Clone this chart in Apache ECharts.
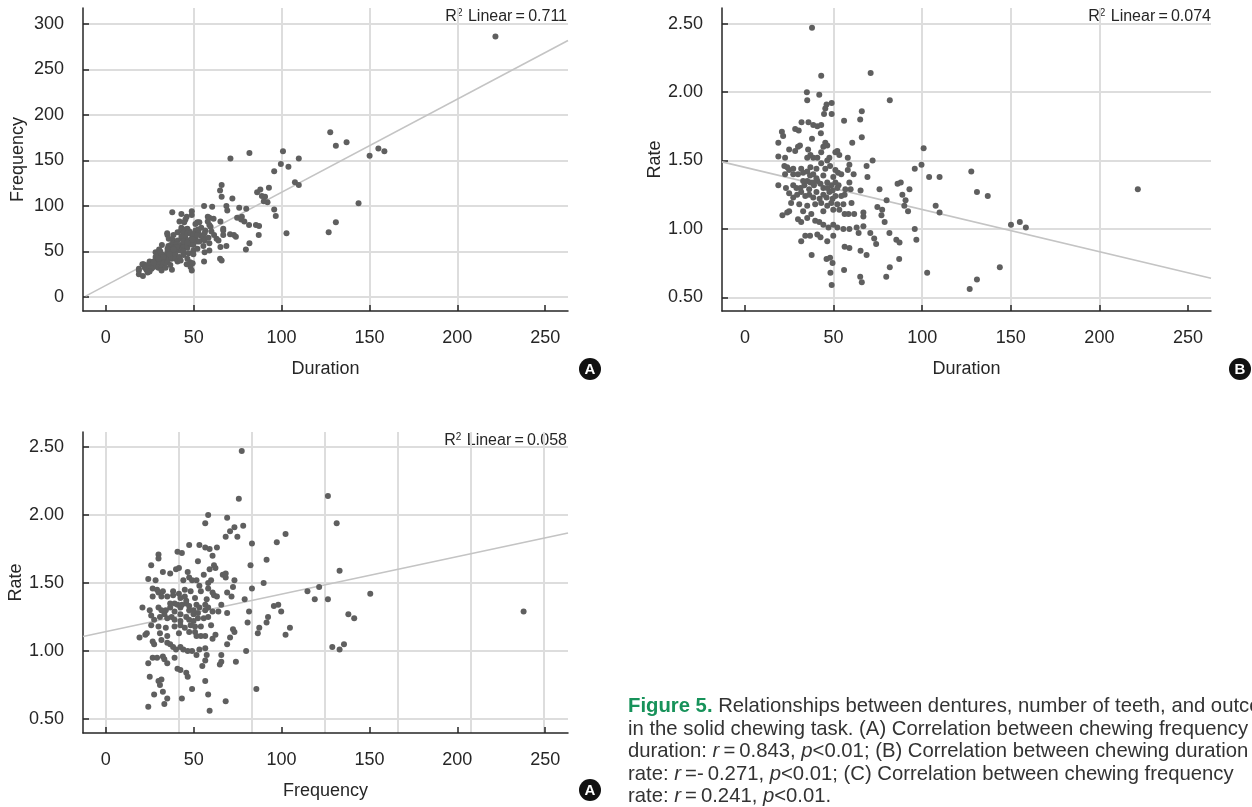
<!DOCTYPE html>
<html>
<head>
<meta charset="utf-8">
<script src="https://cdn.jsdelivr.net/npm/echarts@6/dist/echarts.min.js"></script>
<style>
  html, body { margin: 0; padding: 0; background: #fff; }
  #chart { width: 1252px; height: 807px; }
</style>
</head>
<body>
<div id="chart"></div>
<script>
// one entry per subject: chewing duration, chewing frequency, chewing rate
const duration = [
  37.8, 43.0, 70.9, 34.9, 35.1, 41.9, 81.7, 48.9, 46.0, 45.3,
  44.6, 48.9, 65.9, 65.0, 55.9, 31.9, 35.8, 38.5, 40.8, 43.0,
  28.3, 30.3, 20.8, 21.5, 42.8, 18.8, 60.5, 65.9, 37.8, 45.3,
  46.4, 24.9, 28.3, 29.9, 31.0, 35.6, 100.8, 44.2, 18.8, 22.6,
  36.9, 38.5, 40.8, 47.6, 51.0, 53.2, 58.0, 52.1, 72.0, 68.6,
  99.6, 95.8, 103.9, 109.8, 127.7, 69.1, 22.2, 23.8, 22.6, 24.9,
  27.2, 31.7, 32.8, 35.1, 36.9, 38.5, 40.3, 43.0, 45.3, 46.4,
  48.0, 51.0, 52.5, 58.0, 18.8, 23.1, 27.2, 29.0, 31.3, 33.5,
  35.1, 36.9, 38.9, 40.8, 42.6, 44.2, 46.4, 48.7, 51.0, 52.8,
  58.9, 59.6, 65.2, 75.9, 86.1, 87.9, 92.8, 88.8, 90.6, 92.0,
  89.9, 79.9, 130.9, 137.0, 221.7, 107.6, 109.8, 150.1, 155.1, 158.5,
  24.9, 27.2, 29.4, 31.7, 34.0, 36.2, 38.5, 40.3, 42.1, 44.2,
  46.0, 47.6, 49.4, 51.0, 54.3, 26.0, 30.6, 35.1, 39.6, 43.0,
  46.4, 48.7, 52.1, 55.5, 60.1, 24.9, 21.1, 23.8, 32.8, 37.4,
  44.2, 49.8, 53.2, 56.2, 58.4, 61.6, 74.7, 77.4, 77.0, 66.8,
  29.9, 31.7, 35.1, 39.6, 41.9, 44.2, 47.1, 49.8, 52.1, 55.5,
  58.9, 63.0, 66.8, 64.1, 70.7, 78.8, 81.5, 95.8, 31.7, 34.0,
  36.7, 40.8, 42.6, 46.4, 49.8, 56.2, 58.9, 65.2, 68.6, 72.9,
  74.0, 85.4, 87.2, 96.7, 37.6, 46.0, 48.0, 49.4, 87.0, 55.9,
  48.2, 81.7, 65.0, 65.9, 79.7, 48.9, 102.8, 143.8, 130.9, 126.8,
  27.2, 29.9, 32.8, 36.7, 40.3, 44.2, 49.8, 54.3, 56.6, 56.2,
  46.4, 49.4, 52.1, 36.2, 38.5, 35.1, 43.0, 58.9, 61.3, 66.8
];
const frequency = [
  93, 91, 152, 70, 68, 83, 158, 94, 88, 85,
  82, 90, 123, 117, 100, 57, 64, 68, 71, 76,
  49, 52, 36, 36, 73, 31, 99, 110, 63, 74,
  75, 39, 44, 48, 50, 56, 160, 71, 29, 34,
  57, 59, 62, 72, 80, 82, 88, 82, 108, 100,
  146, 138, 143, 152, 181, 95, 32, 35, 32, 36,
  39, 46, 46, 50, 54, 54, 58, 64, 65, 70,
  70, 73, 74, 83, 25, 30, 36, 38, 41, 44,
  47, 49, 51, 55, 57, 57, 62, 64, 68, 70,
  79, 77, 83, 98, 115, 118, 120, 111, 110, 104,
  105, 97, 166, 170, 286, 126, 123, 155, 163, 160,
  31, 33, 37, 40, 42, 45, 47, 51, 51, 55,
  57, 60, 60, 63, 67, 31, 36, 41, 47, 51,
  54, 58, 61, 65, 72, 28, 23, 27, 37, 42,
  50, 57, 61, 62, 65, 68, 87, 88, 85, 73,
  32, 33, 38, 42, 44, 46, 48, 51, 53, 56,
  59, 64, 68, 62, 69, 83, 79, 96, 29, 32,
  35, 39, 40, 42, 47, 49, 51, 55, 56, 68,
  66, 79, 78, 89, 30, 36, 38, 37, 68, 39,
  33, 59, 42, 40, 52, 29, 70, 103, 82, 71,
  38, 42, 44, 51, 55, 61, 69, 76, 73, 70,
  60, 63, 68, 47, 52, 53, 67, 87, 86, 75
];
const rate = [
  2.47, 2.12, 2.14, 2.00, 1.94, 1.98, 1.94, 1.92, 1.91, 1.88,
  1.84, 1.84, 1.86, 1.80, 1.79, 1.78, 1.78, 1.76, 1.75, 1.76,
  1.73, 1.72, 1.71, 1.68, 1.70, 1.63, 1.63, 1.67, 1.66, 1.63,
  1.61, 1.58, 1.57, 1.60, 1.61, 1.58, 1.59, 1.60, 1.53, 1.52,
  1.54, 1.52, 1.52, 1.52, 1.56, 1.54, 1.52, 1.57, 1.50, 1.46,
  1.47, 1.44, 1.38, 1.38, 1.42, 1.38, 1.46, 1.45, 1.40, 1.43,
  1.44, 1.44, 1.41, 1.42, 1.45, 1.40, 1.44, 1.48, 1.44, 1.50,
  1.46, 1.43, 1.41, 1.43, 1.32, 1.30, 1.32, 1.30, 1.30, 1.32,
  1.35, 1.34, 1.32, 1.35, 1.33, 1.30, 1.34, 1.32, 1.34, 1.32,
  1.34, 1.29, 1.28, 1.29, 1.33, 1.34, 1.29, 1.25, 1.21, 1.13,
  1.17, 1.21, 1.27, 1.24, 1.29, 1.17, 1.12, 1.03, 1.05, 1.01,
  1.26, 1.23, 1.25, 1.27, 1.24, 1.25, 1.23, 1.27, 1.22, 1.25,
  1.23, 1.27, 1.22, 1.24, 1.24, 1.19, 1.18, 1.17, 1.18, 1.19,
  1.17, 1.19, 1.18, 1.18, 1.19, 1.13, 1.10, 1.12, 1.13, 1.11,
  1.13, 1.14, 1.14, 1.11, 1.11, 1.11, 1.16, 1.14, 1.10, 1.09,
  1.07, 1.05, 1.08, 1.06, 1.05, 1.03, 1.01, 1.03, 1.01, 1.00,
  1.00, 1.01, 1.02, 0.97, 0.97, 1.05, 0.97, 1.00, 0.91, 0.95,
  0.95, 0.96, 0.94, 0.91, 0.95, 0.87, 0.86, 0.84, 0.81, 0.93,
  0.89, 0.92, 0.90, 0.92, 0.81, 0.78, 0.79, 0.75, 0.78, 0.70,
  0.68, 0.72, 0.65, 0.61, 0.65, 0.59, 0.68, 0.72, 0.63, 0.56,
  1.40, 1.40, 1.35, 1.39, 1.37, 1.39, 1.38, 1.40, 1.29, 1.25,
  1.30, 1.28, 1.30, 1.29, 1.34, 1.52, 1.56, 1.47, 1.40, 1.12
];

// fitted linear lines, end points read at the plot edges
const fitA = [[-11.5, 0.9], [263, 281.6]];
const fitB = [[-13, 1.49], [263, 0.64]];
const fitC = [[-15.7, 1.107], [316.4, 1.867]];

const r2Values = ['0.711', '0.074', '0.058'];
const xTickLabels = [0, 50, 100, 150, 200, 250];

const captionLines = [
  '{b|Figure 5.} Relationships between dentures, number of teeth, and outcomes',
  'in the solid chewing task. (A) Correlation between chewing frequency',
  'duration: {i|r}\u2009=\u20090.843, {i|p}<0.01; (B) Correlation between chewing duration',
  'rate: {i|r}\u2009=-\u20090.271, {i|p}<0.01; (C) Correlation between chewing frequency',
  'rate: {i|r}\u2009=\u20090.241, {i|p}<0.01.'
];

const font = "'Liberation Sans Narrow', 'Liberation Sans', Arial, sans-serif";
const capFont = "'Liberation Sans', Arial, sans-serif";
const ink = '#262626';
const gridColor = '#dddddd';
const dotColor = '#5f5f5f';
const fitColor = '#c4c4c4';

const pointsA = duration.map((d, i) => [d, frequency[i]]);
const pointsB = duration.map((d, i) => [d, rate[i]]);
const pointsC = frequency.map((f, i) => [f, rate[i]]);

function xAxis(gridIndex, name, min, max) {
  return {
    type: 'value', gridIndex: gridIndex, position: 'bottom',
    min: min, max: max, minInterval: 50, maxInterval: 50,
    name: name, nameLocation: 'middle', nameGap: 49,
    nameTextStyle: { fontFamily: font, fontSize: 18, color: ink },
    axisLine: { show: true, onZero: false, lineStyle: { color: ink, width: 1.5 } },
    axisTick: { show: true, inside: true, length: 6, customValues: xTickLabels, lineStyle: { color: ink, width: 1.5 } },
    axisLabel: { fontFamily: font, fontSize: 18, color: ink, margin: 18, customValues: xTickLabels },
    splitLine: { show: true, showMinLine: false, showMaxLine: false, lineStyle: { color: gridColor, width: 2 } }
  };
}

function yAxis(gridIndex, name, min, max, step, digits, gap) {
  return {
    type: 'value', gridIndex: gridIndex,
    min: min, max: max, minInterval: step, maxInterval: step,
    name: name, nameLocation: 'middle', nameGap: gap, nameRotate: 90,
    nameTextStyle: { fontFamily: font, fontSize: 18, color: ink },
    axisLine: { show: true, onZero: false, lineStyle: { color: ink, width: 1.5 } },
    axisTick: { show: true, inside: true, length: 6, lineStyle: { color: ink, width: 1.5 } },
    axisLabel: {
      fontFamily: font, fontSize: 18, color: ink, margin: 19,
      showMinLabel: false, showMaxLabel: false,
      formatter: v => v.toFixed(digits)
    },
    splitLine: { show: true, showMinLine: false, showMaxLine: false, lineStyle: { color: gridColor, width: 2 } }
  };
}

function scatter(xi, yi, data) {
  return {
    type: 'scatter', xAxisIndex: xi, yAxisIndex: yi, data: data,
    symbolSize: 6, itemStyle: { color: dotColor, opacity: 1 }, z: 3
  };
}

function fitLine(xi, yi, data) {
  return {
    type: 'line', xAxisIndex: xi, yAxisIndex: yi, data: data,
    showSymbol: false, silent: true, z: 2,
    lineStyle: { color: fitColor, width: 1.6 }
  };
}

function r2Label(x, y, value) {
  return {
    type: 'text', right: x, top: y,
    style: {
      text: '{t|R}{s|2}{t| Linear\u2009=\u2009' + value + '}',
      rich: {
        t: { fontFamily: font, fontSize: 16, fill: ink, lineHeight: 18 },
        s: { fontFamily: font, fontSize: 10, fill: ink, verticalAlign: 'top', lineHeight: 18, padding: [0, 1, 6, 0] }
      }
    }
  };
}

function badge(cx, cy, letter) {
  return {
    type: 'group', children: [
      { type: 'circle', shape: { cx: cx, cy: cy, r: 11 }, style: { fill: '#111' } },
      {
        type: 'text', x: cx, y: cy + 1,
        style: { text: letter, fill: '#fff', fontFamily: capFont, fontSize: 15, fontWeight: 'bold', align: 'center', verticalAlign: 'middle' }
      }
    ]
  };
}

const captionY = [706, 729, 751, 774, 796];
const captionText = captionLines.map((line, i) => ({
  type: 'text', x: 628, y: captionY[i],
  style: {
    text: line,
    fontFamily: capFont, fontSize: 20.3, fill: '#333',
    verticalAlign: 'middle',
    rich: {
      b: { fontFamily: capFont, fontSize: 20.3, fontWeight: 'bold', fill: '#17925a' },
      i: { fontFamily: capFont, fontSize: 20.3, fontStyle: 'italic', fill: '#333' }
    }
  }
}));

const chart = echarts.init(document.getElementById('chart'), null, { renderer: 'canvas' });

chart.setOption({
  animation: false,
  backgroundColor: '#fff',
  grid: [
    { left: 83, top: 8, width: 485, height: 303 },
    { left: 722, top: 8, width: 489, height: 303 },
    { left: 83, top: 432, width: 485, height: 301 }
  ],
  xAxis: [
    xAxis(0, 'Duration', -13, 263),
    xAxis(1, 'Duration', -13, 263),
    Object.assign(xAxis(2, 'Frequency', -13, 263), { splitLine: { show: false } }),
    {
      // frequency scale the points of panel C sit on; only its grid lines show
      type: 'value', gridIndex: 2, position: 'bottom',
      min: -15.7, max: 316.4, minInterval: 50, maxInterval: 50,
      axisLine: { show: false }, axisTick: { show: false }, axisLabel: { show: false },
      splitLine: { show: true, showMinLine: false, showMaxLine: false, lineStyle: { color: gridColor, width: 2 } }
    }
  ],
  yAxis: [
    yAxis(0, 'Frequency', -15.4, 317.3, 50, 0, 56),
    yAxis(1, 'Rate', 0.40, 2.615, 0.5, 2, 53),
    yAxis(2, 'Rate', 0.397, 2.61, 0.5, 2, 56)
  ],
  series: [
    fitLine(0, 0, fitA),
    scatter(0, 0, pointsA),
    fitLine(1, 1, fitB),
    scatter(1, 1, pointsB),
    fitLine(3, 2, fitC),
    scatter(3, 2, pointsC)
  ],
  graphic: [
    r2Label(1252 - 567, 8, r2Values[0]),
    r2Label(1252 - 1211, 8, r2Values[1]),
    r2Label(1252 - 567, 432, r2Values[2]),
    badge(590, 369, 'A'),
    badge(1240, 369, 'B'),
    badge(590, 790, 'A')
  ].concat(captionText)
});
</script>
</body>
</html>
